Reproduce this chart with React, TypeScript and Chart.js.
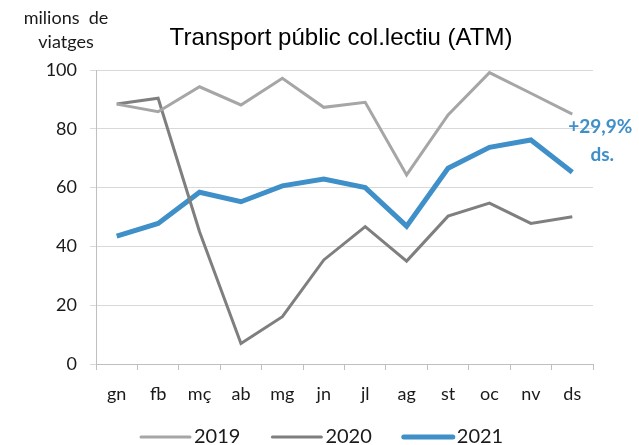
import React, { useEffect, useRef } from "react";
import { Chart, registerables } from "chart.js";

Chart.register(...registerables);

const categories = ["gn", "fb", "mç", "ab", "mg", "jn", "jl", "ag", "st", "oc", "nv", "ds"];
const values2019 = [88.4, 85.8, 94.3, 88.1, 97.2, 87.3, 89.0, 64.3, 84.7, 99.1, 92.1, 85.0];
const values2020 = [88.4, 90.4, 45.0, 7.0, 16.1, 35.4, 46.7, 35.0, 50.3, 54.7, 47.8, 50.1];
const values2021 = [43.5, 47.8, 58.4, 55.2, 60.6, 62.9, 60.0, 46.9, 66.6, 73.7, 76.2, 65.2];
const seriesLabels = ["2019", "2020", "2021"];
const yTicks = [0, 20, 40, 60, 80, 100];
const titleText = "Transport públic col.lectiu (ATM)";
const yAxisTitle = ["milions  de", "viatges"];
const annotationLines = ["+29,9%", "ds."];

const FONT = "Lato, 'Liberation Sans', sans-serif";
const TITLE_FONT = "'Liberation Sans', Arial, sans-serif";
const BLUE = "#3f8fc8";

const textPlugin = {
  id: "textPlugin",
  afterDraw(chart: any) {
    const ctx = chart.ctx;
    ctx.save();
    ctx.fillStyle = "#000000";
    ctx.textAlign = "center";
    ctx.textBaseline = "alphabetic";
    ctx.font = `24px ${TITLE_FONT}`;
    ctx.fillText(titleText, 341, 45);
    ctx.textBaseline = "middle";
    ctx.font = `18px ${FONT}`;
    ctx.fillStyle = "#1a1a1a";
    ctx.fillText(yAxisTitle[0], 66, 18);
    ctx.fillText(yAxisTitle[1], 66, 42);
    // annotation near last point of 2021
    const meta = chart.getDatasetMeta(2);
    const last = meta.data[meta.data.length - 1];
    ctx.fillStyle = BLUE;
    ctx.font = `bold 19px ${FONT}`;
    ctx.fillText(annotationLines[0], last.x + 28, last.y - 45);
    ctx.fillText(annotationLines[1], last.x + 30, last.y - 17);

    // legend
    ctx.font = `20px ${FONT}`;
    ctx.textAlign = "left";
    const lineLen = 49;
    const gapText = 4;
    const gapItem = 32;
    const y = 437;
    let x = 141;
    chart.data.datasets.forEach((ds: any) => {
      ctx.strokeStyle = ds.borderColor;
      ctx.lineWidth = ds.borderWidth;
      ctx.lineCap = "round";
      ctx.beginPath();
      ctx.moveTo(x, y);
      ctx.lineTo(x + lineLen, y);
      ctx.stroke();
      x += lineLen + gapText;
      ctx.fillStyle = "#1a1a1a";
      ctx.fillText(ds.label, x, y);
      x += ctx.measureText(ds.label).width + gapItem;
    });
    ctx.restore();
  },
};

export default function App() {
  const ref = useRef<HTMLCanvasElement>(null);
  useEffect(() => {
    if (!ref.current) return;
    const chart = new Chart(ref.current, {
      type: "line",
      data: {
        labels: categories,
        datasets: [
          { label: seriesLabels[0], data: values2019, borderColor: "#a6a6a6", backgroundColor: "#a6a6a6", borderWidth: 3, pointRadius: 0, tension: 0 },
          { label: seriesLabels[1], data: values2020, borderColor: "#7f7f7f", backgroundColor: "#7f7f7f", borderWidth: 3, pointRadius: 0, tension: 0 },
          { label: seriesLabels[2], data: values2021, borderColor: BLUE, backgroundColor: BLUE, borderWidth: 5, pointRadius: 0, tension: 0 },
        ],
      },
      options: {
        animation: false,
        responsive: false,
        maintainAspectRatio: false,
        layout: { padding: { top: 70, right: 46, left: 0, bottom: 0 } },
        plugins: {
          title: { display: false },
          tooltip: { enabled: false },
          legend: { display: false },
        },
        scales: {
          x: {
            offset: true,
            grid: { drawOnChartArea: false, offset: true, tickLength: 6, color: "#bfbfbf" },
            border: { color: "#bfbfbf" },
            ticks: { color: "#1a1a1a", font: { family: FONT, size: 18 }, padding: 13 },
            afterFit: (s: any) => { s.height = 81; },
          },
          y: {
            min: 0,
            max: 100,
            afterBuildTicks: (s: any) => { s.ticks = yTicks.map((v) => ({ value: v })); },
            grid: { color: "#d9d9d9", tickLength: 6, lineWidth: 1 },
            border: { color: "#bfbfbf" },
            ticks: { color: "#1a1a1a", font: { family: FONT, size: 18 }, padding: 13 },
            afterFit: (s: any) => { s.width = 96; },
          },
        },
      },
      plugins: [textPlugin],
    });
    return () => chart.destroy();
  }, []);
  return (
    <div style={{ position: "fixed", left: 0, top: 0, width: 639, height: 445, background: "#ffffff" }}>
      <canvas ref={ref} width={639} height={445} />
    </div>
  );
}
